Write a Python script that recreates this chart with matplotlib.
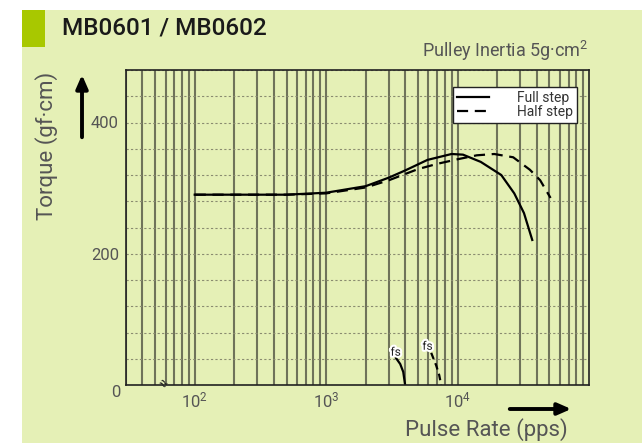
import matplotlib
matplotlib.use("Agg")
import matplotlib.pyplot as plt
import matplotlib.patheffects as pe
from matplotlib.patches import Rectangle, FancyArrowPatch
from matplotlib.ticker import LogLocator, MultipleLocator, NullFormatter

plt.rcParams["font.family"] = ["Roboto", "DejaVu Sans"]
plt.rcParams["mathtext.default"] = "regular"

# torque curves (pulse rate in pps, torque in gf·cm)
full_pps = [100, 500, 1000, 2000, 3000, 4000, 5900, 9000, 11000, 15000, 21500, 27000, 32000, 37000]
full_torque = [290, 290, 293, 303, 316, 327, 343, 352, 351, 340, 320, 292, 262, 221]

half_pps = [100, 500, 1000, 2000, 3000, 5000, 7000, 10000, 14000, 19000, 26500, 35500, 42500, 51000]
half_torque = [290, 290, 292, 301, 312, 329, 337, 344, 350, 352, 347, 328, 312, 285]

# start-stop (fs) curves
full_fs_pps = [3400, 3660, 3860, 3990]
full_fs_torque = [41, 32, 20, 0]
half_fs_pps = [6300, 6870, 7250, 7500]
half_fs_torque = [49, 30, 15, 0]

x_ticks = [100, 1000, 10000]
x_tick_labels = ["$10^{2}$", "$10^{3}$", "$10^{4}$"]
y_ticks = [200, 400]

bg = "#e5f0b6"
text_grey = "#555555"

fig = plt.figure(figsize=(6.42, 4.43), dpi=100)
fig.patch.set_facecolor("white")
fig.patches.append(Rectangle((22 / 642, 0), 1, 1 - 10 / 443, transform=fig.transFigure,
                             facecolor=bg, edgecolor="none", zorder=-10))
fig.patches.append(Rectangle((22 / 642, 1 - 47 / 443), 23 / 642, 37 / 443, transform=fig.transFigure,
                             facecolor="#a8c800", edgecolor="none", zorder=-5))
fig.text(62 / 642, 1 - 28 / 443, "MB0601 / MB0602", fontsize=17.5, fontweight="medium",
         color="#1a1a1a", va="center", ha="left")
fig.text(589 / 642, 1 - 57 / 443, "Pulley Inertia 5g·cm$^{2}$", fontsize=13,
         color=text_grey, ha="right", va="baseline")

ax = fig.add_axes([126 / 642, 1 - 385 / 443, 463 / 642, 315 / 443])
ax.set_facecolor("none")
ax.set_xscale("log")
ax.set_xlim(30, 1e5)
ax.set_ylim(0, 480)

ax.set_xticks(x_ticks)
ax.set_xticklabels(x_tick_labels)
ax.xaxis.set_minor_locator(LogLocator(base=10, subs=range(2, 10)))
ax.xaxis.set_minor_formatter(NullFormatter())
ax.set_yticks(y_ticks)
ax.yaxis.set_minor_locator(MultipleLocator(40))
ax.tick_params(which="both", length=0, colors=text_grey, labelsize=12)
ax.tick_params(axis="x", pad=4)
ax.tick_params(axis="y", pad=5)

ax.grid(axis="x", which="both", color="#6f735a", lw=1.5)
ax.grid(axis="y", which="both", color="#8a8c70", lw=0.8, linestyle=(0, (2, 2)))
ax.set_axisbelow(True)
for s in ax.spines.values():
    s.set_color("#222222")
    s.set_linewidth(1.2)

ax.plot(full_pps, full_torque, color="black", lw=1.6, label="Full step")
ax.plot(half_pps, half_torque, color="black", lw=1.6, linestyle=(0, (5, 3)), label="Half step")
ax.plot(full_fs_pps, full_fs_torque, color="black", lw=1.6)
ax.plot(half_fs_pps, half_fs_torque, color="black", lw=1.6, linestyle=(0, (3, 2)))

halo = [pe.withStroke(linewidth=3, foreground="white")]
ax.text(3380, 50, "fs", fontsize=8.5, ha="center", va="center", color="#222222", path_effects=halo)
ax.text(5900, 59, "fs", fontsize=8.5, ha="center", va="center", color="#222222", path_effects=halo)

# axis break mark
ax.text(56, 2, "≈", fontsize=11, rotation=-35, ha="center", va="center", color="#222222", clip_on=False)
ax.text(-0.012, -0.005, "0", transform=ax.get_yaxis_transform(), fontsize=12,
        color=text_grey, ha="right", va="top")

leg = ax.legend(loc="upper right", bbox_to_anchor=(1 - 12 / 463, 1 - 17 / 315), fontsize=10,
                frameon=True, fancybox=False, handlelength=2.3, handletextpad=2.0,
                labelspacing=0.0, borderpad=0.3, borderaxespad=0)
leg.get_frame().set_edgecolor("#222222")
leg.get_frame().set_facecolor("white")
leg.get_frame().set_alpha(1)
leg.get_frame().set_linewidth(1.0)
for t in leg.get_texts():
    t.set_color("#333333")

fig.text(47 / 642, 1 - 146 / 443, "Torque (gf·cm)", rotation=90, fontsize=16,
         color=text_grey, ha="center", va="center")
fig.text(568 / 642, 1 - 430 / 443, "Pulse Rate (pps)", fontsize=16,
         color=text_grey, ha="right", va="center")

fig.patches.append(FancyArrowPatch((82 / 642, 1 - 140 / 443), (82 / 642, 1 - 72 / 443),
                                   transform=fig.transFigure, arrowstyle="-|>,head_length=8,head_width=3.5",
                                   color="black", lw=2.8))
fig.patches.append(FancyArrowPatch((507 / 642, 1 - 409 / 443), (574 / 642, 1 - 409 / 443),
                                   transform=fig.transFigure, arrowstyle="-|>,head_length=8,head_width=3.5",
                                   color="black", lw=2.8))

fig.savefig("out.png", dpi=100, facecolor=fig.get_facecolor())
